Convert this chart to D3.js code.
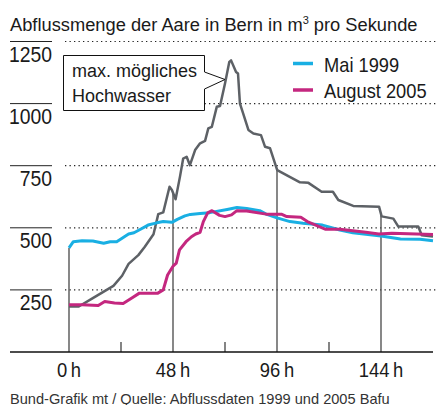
<!DOCTYPE html>
<meta charset="utf-8">
<script src="https://d3js.org/d3.v7.min.js"></script>
<style>
  body { margin: 0; background: #fff; }
  svg text { font-family: "Liberation Sans", Arial, sans-serif; fill: #1a1a1a; }
</style>
<div id="chart"></div>
<script>
// Abfluss in m3/s, Stunden ab Beginn
var mai1999 = [[0,419],[2,444],[6,448],[11,447],[16,438],[19,444],[22,444],[24.5,458],[27.5,475],[30,480],[33,494],[36.5,511],[40.5,520],[43.5,525],[47.5,522],[50,534],[53.5,548],[56,554],[60.5,558],[65,561],[73,574],[77.5,582],[82,578],[88,569],[91,555],[96,540],[102,525],[108,518],[117,511],[125,491],[131,480],[144,467],[153,455],[162,454],[168,448]];
var august2005 = [[0,190],[6,190],[13.5,187],[16.5,203],[21,197],[25,195],[29,217],[32.5,237],[41,237],[43.5,250],[45.5,310],[48,345],[49.5,358],[51,411],[54,444],[56.5,464],[58.5,475],[60.5,482],[62,525],[64,560],[66,569],[69.5,550],[72,545],[75,552],[77.5,569],[82,568],[91,555],[98,555],[100.5,545],[107,542],[110,525],[118.5,494],[125,494],[137,482],[143,475],[149,478],[168,473]];
var maxHochwasser = [[0,183],[4.5,183],[11,217],[20.5,266],[24.5,307],[27.5,355],[32,390],[35,424],[39,474],[41.2,555],[43.5,562],[46.4,665],[47.5,652],[49.2,615],[51.2,705],[52.7,779],[54.3,786],[55.8,752],[58.2,813],[60.5,840],[62.8,850],[64.3,900],[65.9,906],[68.2,987],[69.7,990],[72,1081],[74,1168],[74.8,1174],[77.1,1127],[78,1121],[78.9,1000],[80.4,960],[82.8,894],[85.1,880],[88.6,873],[90.5,826],[92.8,820],[96.1,732],[106.6,683],[110.5,681],[116.6,645],[121.8,645],[124.3,612],[131.2,588],[143.1,585],[144.3,546],[149.7,537],[152,505],[161.2,505],[162.8,470],[168,465]];

var yTicks = [250, 500, 750, 1000, 1250];
var xTicks = [0, 48, 96, 144];
var xMinor = [24, 72, 120];
var legendNames = ["Mai 1999", "August 2005"];

var W = 437, H = 405;
var svg = d3.select("#chart").append("svg")
    .attr("width", W).attr("height", H);

var x = d3.scaleLinear().domain([0, 168]).range([69, 433]);
var y = d3.scaleLinear().domain([0, 1250]).range([352, 41.5]);

// condensed look: shrink text horizontally
function squeeze(sel, f) {
  sel.each(function() {
    var w = this.getComputedTextLength();
    d3.select(this).attr("textLength", w * f).attr("lengthAdjust", "spacingAndGlyphs");
  });
}

// title
svg.append("text").attr("x", 10).attr("y", 31)
  .style("font-size", "18.3px")
  .html("Abflussmenge der Aare in Bern in m<tspan dy='-7' style='font-size:11px'>3</tspan><tspan dy='7'> pro Sekunde</tspan>");

// gridlines + y labels
var gy = svg.append("g");
yTicks.forEach(function(t) {
  gy.append("line").attr("x1", 65).attr("x2", W).attr("y1", y(t)).attr("y2", y(t))
    .attr("stroke", "#222").attr("stroke-width", 1.2).attr("stroke-dasharray", "1.3,3.2");
  gy.append("line").attr("x1", 10).attr("x2", 52).attr("y1", y(t)).attr("y2", y(t))
    .attr("stroke", "#222").attr("stroke-width", 1);
  gy.append("text").attr("x", 52).attr("y", y(t) + 20)
    .attr("text-anchor", "end").style("font-size", "22px").text(t)
    .call(squeeze, 0.88);
});

// drop lines at major hours, up to the highest curve
function valueAt(series, h) {
  var i = d3.bisector(function(d) { return d[0]; }).left(series, h);
  if (i <= 0) return series[0][1];
  if (i >= series.length) return series[series.length - 1][1];
  var a = series[i - 1], b = series[i];
  return a[1] + (b[1] - a[1]) * (h - a[0]) / (b[0] - a[0]);
}
svg.append("g").selectAll("line").data(xTicks).enter().append("line")
  .attr("x1", function(d) { return x(d); }).attr("x2", function(d) { return x(d); })
  .attr("y1", y(0))
  .attr("y2", function(d) { return y(d3.max([mai1999, august2005, maxHochwasser], function(s) { return valueAt(s, d); })); })
  .attr("stroke", "#555").attr("stroke-width", 1.4);

// minor ticks
svg.append("g").selectAll("line").data(xMinor).enter().append("line")
  .attr("x1", function(d) { return x(d); }).attr("x2", function(d) { return x(d); })
  .attr("y1", y(0)).attr("y2", y(0) - 10)
  .attr("stroke", "#333").attr("stroke-width", 1.2);

// baseline
svg.append("line").attr("x1", 10).attr("x2", 433).attr("y1", y(0)).attr("y2", y(0))
  .attr("stroke", "#111").attr("stroke-width", 1.5);

// x labels
svg.append("g").selectAll("text").data(xTicks).enter().append("text")
  .attr("x", function(d) { return x(d); }).attr("y", 377)
  .attr("text-anchor", "middle").style("font-size", "20px")
  .text(function(d) { return d + "\u2009h"; })
  .call(squeeze, 0.92);

// lines
var line = d3.line().x(function(d) { return x(d[0]); }).y(function(d) { return y(d[1]); });
svg.append("path").datum(maxHochwasser).attr("d", line)
  .attr("fill", "none").attr("stroke", "#5d6166").attr("stroke-width", 2.5).attr("stroke-linejoin", "round");
svg.append("path").datum(mai1999).attr("d", line)
  .attr("fill", "none").attr("stroke", "#19afe3").attr("stroke-width", 3).attr("stroke-linejoin", "round");
svg.append("path").datum(august2005).attr("d", line)
  .attr("fill", "none").attr("stroke", "#c4277f").attr("stroke-width", 3).attr("stroke-linejoin", "round");

// annotation
svg.append("path")
  .attr("d", "M63.5,55.5H204.5V72L225,79.5L204.5,89V110.5H63.5Z")
  .attr("fill", "#fff").attr("stroke", "#111").attr("stroke-width", 1);
svg.append("text").attr("x", 72).attr("y", 77).style("font-size", "18px").text("max. mögliches");
svg.append("text").attr("x", 72).attr("y", 102).style("font-size", "18px").text("Hochwasser");

// legend
var legColors = ["#19afe3", "#c4277f"];
legendNames.forEach(function(n, i) {
  svg.append("line").attr("x1", 293).attr("x2", 313).attr("y1", 63.5 + i * 26.5).attr("y2", 63.5 + i * 26.5)
    .attr("stroke", legColors[i]).attr("stroke-width", 3.5);
  svg.append("text").attr("x", 324).attr("y", 72 + i * 26).style("font-size", "21px").text(n)
    .call(squeeze, 0.87);
});

// source
svg.append("text").attr("x", 10).attr("y", 404).style("font-size", "14.6px")
  .style("fill", "#333").text("Bund-Grafik mt / Quelle: Abflussdaten 1999 und 2005 Bafu");
</script>
